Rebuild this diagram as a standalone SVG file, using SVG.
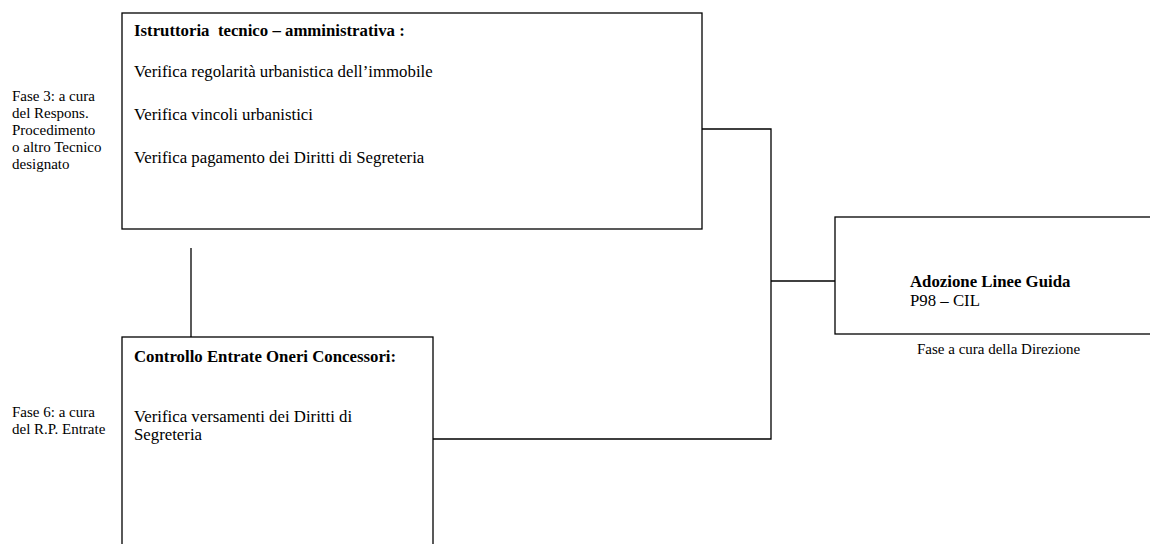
<svg xmlns="http://www.w3.org/2000/svg" width="1150" height="544" viewBox="0 0 1150 544">
  <style>
    .box { fill: #ffffff; stroke: #000000; stroke-width: 1.3; }
    .wire { fill: none; stroke: #000000; stroke-width: 1.3; }
    text { font-family: "Liberation Serif", "Times New Roman", serif; fill: #000000; }
    .t { font-size: 16.8px; }
    .b { font-size: 16.8px; font-weight: bold; }
    .s { font-size: 15px; }
  </style>
  <rect width="1150" height="544" fill="#ffffff"/>

  <g id="connectors">
    <polyline class="wire" points="702,129 771,129 771,439 433,439"/>
    <line class="wire" x1="771" y1="281" x2="835" y2="281"/>
    <line class="wire" x1="191" y1="248" x2="191" y2="337"/>
  </g>

  <g id="istruttoria">
    <rect class="box" x="122" y="13" width="580" height="216"/>
    <text class="b" x="134" y="36" xml:space="preserve">Istruttoria  tecnico – amministrativa :</text>
    <text class="t" x="134" y="77">Verifica regolarità urbanistica dell’immobile</text>
    <text class="t" x="134" y="120">Verifica vincoli urbanistici</text>
    <text class="t" x="134" y="163">Verifica pagamento dei Diritti di Segreteria</text>
  </g>

  <g id="fase3">
    <text class="s"><tspan x="12" y="101">Fase 3: a cura</tspan><tspan x="12" y="118">del Respons.</tspan><tspan x="12" y="135">Procedimento</tspan><tspan x="12" y="152">o altro Tecnico</tspan><tspan x="12" y="169">designato</tspan></text>
  </g>

  <g id="controllo">
    <rect class="box" x="122" y="337" width="311" height="220"/>
    <text class="b" x="134" y="362">Controllo Entrate Oneri Concessori:</text>
    <text class="t" x="134" y="422">Verifica versamenti dei Diritti di</text>
    <text class="t" x="134" y="440">Segreteria</text>
  </g>

  <g id="fase6">
    <text class="s"><tspan x="12" y="417">Fase 6: a cura</tspan><tspan x="12" y="434">del R.P. Entrate</tspan></text>
  </g>

  <g id="adozione">
    <rect class="box" x="835" y="217" width="330" height="117"/>
    <text class="b" x="910" y="287">Adozione Linee Guida</text>
    <text class="t" x="910" y="306">P98 – CIL</text>
  </g>

  <g id="direzione">
    <text class="s" x="917" y="354">Fase a cura della Direzione</text>
  </g>
</svg>
